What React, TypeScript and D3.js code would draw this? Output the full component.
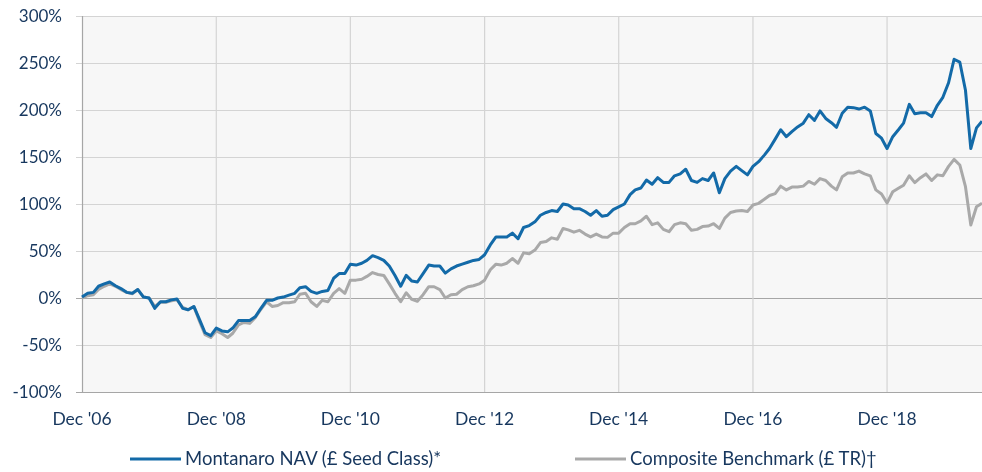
import * as d3 from 'd3';
import { useEffect, useRef } from 'react';

// monthly returns since Dec 2006, in %
const navValues = [
  1, 5, 6, 12.5, 15, 17, 13, 10, 6, 5, 9, 1,
  0, -11, -4, -4, -2, -1, -11, -12.5, -9, -23, -37, -40,
  -32, -35, -36, -32, -24, -24, -24, -20, -11, -2.5, -2.5, 0,
  1, 3, 5, 11, 12, 7, 5, 7, 8, 21, 26, 26,
  36, 35, 37, 40, 45, 43, 40, 34, 24, 12.5, 24, 18,
  17, 26, 35, 34, 34, 26.5, 31, 34, 36, 38, 40, 41,
  46, 56.5, 65, 65, 65, 69, 63, 75, 77, 81, 88, 91,
  93, 92, 100, 99, 95, 95, 92, 88, 93, 87, 88, 94,
  97, 100, 110, 115, 117, 125.5, 121, 128, 123, 123, 130, 132,
  137, 125, 123, 127, 125, 133, 112, 127, 135, 140, 135.5, 131,
  140, 145, 152, 159, 169, 179, 171.6, 177, 182, 186, 195, 189,
  199, 191, 186.5, 181.6, 196.5, 203, 202.5, 201, 203, 199, 175, 170,
  159, 171.6, 179, 186, 206, 196, 197, 197, 193, 205, 213.5, 229,
  254, 251, 221, 159, 181, 188,
];

const benchValues = [
  0, 2.5, 3.5, 9, 12.5, 15, 12.5, 9, 6, 4.6, 9, 1,
  0, -9, -4.6, -4.6, -3, -2, -10, -12.5, -9, -25, -39, -42,
  -35, -38, -42, -37.5, -28.6, -26, -27, -21, -12, -4, -9, -8,
  -5, -5, -4, 4, 5, -4, -9, -2.5, -4, 5, 10, 5,
  19, 19, 20, 23, 27, 25, 24, 15, 5, -4, 5.5, -1.5,
  -3.5, 3.5, 12, 12, 9, 0, 3.5, 4, 9, 12, 13, 15,
  19, 30, 36, 35, 37, 42, 37, 48, 47, 51, 59, 60,
  64, 62.5, 74, 72.5, 70, 72, 68, 65, 68, 65, 64.5, 69,
  69, 75, 79, 79, 82, 87, 78, 80, 73, 70.5, 78, 80,
  79, 72, 73, 76, 76.5, 79, 74, 85, 91, 92.5, 93, 92,
  99, 100.7, 105, 109, 111, 119, 115, 118, 118, 119, 124, 121,
  127, 125, 119, 115, 129, 133, 133, 135, 132, 130, 115, 110.6,
  101, 113, 116.7, 120, 130, 122.7, 128, 132, 125, 131, 130, 140,
  147.5, 141.5, 118.4, 77.7, 97, 100.7,
];

const yTicks = [-100, -50, 0, 50, 100, 150, 200, 250, 300];
const xTickLabels = ["Dec '06", "Dec '08", "Dec '10", "Dec '12", "Dec '14", "Dec '16", "Dec '18"];
const seriesNames = ['Montanaro NAV (£ Seed Class)*', 'Composite Benchmark (£ TR)†'];
const seriesColors = ['#136aa8', '#a9a9a9'];

const App = () => {
  const width = 982;
  const height = 472;
  const margin = { top: 16, right: 0, bottom: 80, left: 82 };
  const textColor = '#17375e';
  const font = 'Lato, "Open Sans", sans-serif';

  const svgRef = useRef<SVGSVGElement>(null);

  useEffect(() => {
    const svg = d3.select(svgRef.current);
    svg.selectAll('*').remove();

    const start = new Date(2006, 11, 1);
    const dates = navValues.map((_, i) => d3.timeMonth.offset(start, i));
    const xTickDates = xTickLabels.map((_, i) => d3.timeMonth.offset(start, i * 24));

    const x = d3.scaleTime()
      .domain([dates[0], dates[dates.length - 1]])
      .range([margin.left, width - margin.right]);
    const y = d3.scaleLinear()
      .domain([-100, 300])
      .range([height - margin.bottom, margin.top]);

    // plot background
    svg.append('rect')
      .attr('x', margin.left)
      .attr('y', margin.top)
      .attr('width', width - margin.left - margin.right)
      .attr('height', height - margin.top - margin.bottom)
      .attr('fill', '#f7f7f7');

    // horizontal grid
    svg.append('g')
      .selectAll('line')
      .data(yTicks)
      .join('line')
      .attr('x1', margin.left - 6)
      .attr('x2', width - margin.right)
      .attr('y1', d => y(d) + 0.5)
      .attr('y2', d => y(d) + 0.5)
      .attr('stroke', d => (d === 0 || d === -100 ? '#a6a6a6' : '#d4d4d4'))
      .attr('stroke-width', 1.2);

    // vertical grid
    svg.append('g')
      .selectAll('line')
      .data(xTickDates.slice(1))
      .join('line')
      .attr('x1', d => x(d))
      .attr('x2', d => x(d))
      .attr('y1', margin.top)
      .attr('y2', height - margin.bottom)
      .attr('stroke', '#d4d4d4')
      .attr('stroke-width', 1.2);

    // y axis line
    svg.append('line')
      .attr('x1', margin.left + 0.5)
      .attr('x2', margin.left + 0.5)
      .attr('y1', margin.top)
      .attr('y2', height - margin.bottom)
      .attr('stroke', '#a6a6a6')
      .attr('stroke-width', 1.2);

    // y labels
    svg.append('g')
      .selectAll('text')
      .data(yTicks)
      .join('text')
      .attr('x', 62)
      .attr('y', d => y(d))
      .attr('dy', '0.35em')
      .attr('text-anchor', 'end')
      .attr('fill', textColor)
      .style('font-family', font)
      .style('font-size', '17px')
      .text(d => `${d}%`);

    // x labels
    svg.append('g')
      .selectAll('text')
      .data(xTickDates)
      .join('text')
      .attr('x', d => x(d))
      .attr('y', 425)
      .attr('text-anchor', 'middle')
      .attr('fill', textColor)
      .style('font-family', font)
      .style('font-size', '17.5px')
      .text((_, i) => xTickLabels[i]);

    const line = d3.line<number>()
      .x((_, i) => x(dates[i]))
      .y(d => y(d))
      .curve(d3.curveLinear);

    [benchValues, navValues].forEach((vals, k) => {
      svg.append('path')
        .datum(vals)
        .attr('d', line)
        .attr('fill', 'none')
        .attr('stroke', seriesColors[1 - k])
        .attr('stroke-width', 3)
        .attr('stroke-linejoin', 'round');
    });

    // legend
    const legendX = [130, 575];
    const legend = svg.append('g')
      .selectAll('g')
      .data(seriesNames)
      .join('g')
      .attr('transform', (_, i) => `translate(${legendX[i]},459)`);
    legend.append('line')
      .attr('x1', 0)
      .attr('x2', 51)
      .attr('stroke', (_, i) => seriesColors[i])
      .attr('stroke-width', 3);
    legend.append('text')
      .attr('x', 55)
      .attr('dy', '0.35em')
      .attr('fill', textColor)
      .style('font-family', font)
      .style('font-size', '18.5px')
      .text(d => d);
  }, []);

  return (
    <div style={{ position: 'fixed', left: 0, top: 0 }}>
      <svg ref={svgRef} width={width} height={height} viewBox={`0 0 ${width} ${height}`} />
    </div>
  );
};

export default App;
